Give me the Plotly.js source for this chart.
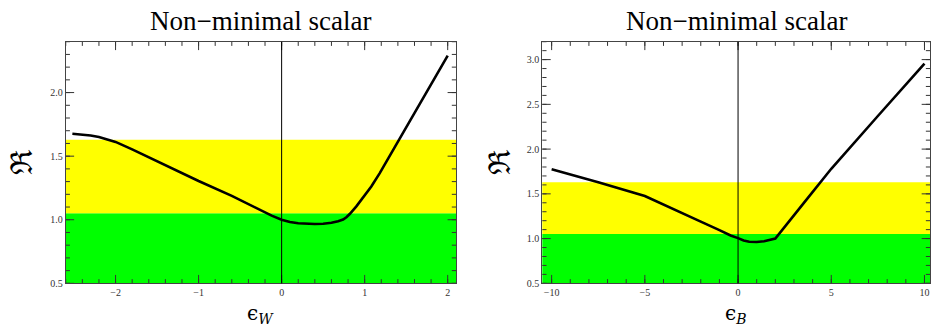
<!DOCTYPE html>
<html>
<head>
<meta charset="utf-8">
<script src="https://cdn.plot.ly/plotly-3.0.1.min.js"></script>
<style>
  html, body { margin: 0; padding: 0; background: #fff; }
  #chart { width: 931px; height: 331px; }
</style>
</head>
<body>
<div id="chart"></div>
<script>
// left panel: R vs eps_W
const epsW = [-2.52, -2.4, -2.3, -2.2, -2.1, -2.0, -1.8, -1.5, -1.0, -0.6, -0.4, -0.25, -0.12, 0.0, 0.1, 0.2, 0.3, 0.4, 0.5, 0.6, 0.68, 0.74, 0.78, 0.82, 0.9, 0.98, 1.08, 1.18, 1.28, 1.405, 1.706, 2.0];
const rW   = [1.676, 1.67, 1.662, 1.65, 1.633, 1.612, 1.553, 1.46, 1.305, 1.188, 1.124, 1.072, 1.032, 1.0, 0.983, 0.973, 0.968, 0.967, 0.969, 0.976, 0.988, 1.002, 1.02, 1.045, 1.105, 1.172, 1.262, 1.365, 1.478, 1.622, 1.962, 2.29];

// right panel: R vs eps_B
const epsB = [-10.0, -7.5, -5.0, -3.0, -2.0, -1.0, -0.4, 0.0, 0.3, 0.6, 1.0, 1.4, 2.0, 3.5, 5.0, 7.5, 10.0];
const rB   = [1.775, 1.63, 1.475, 1.28, 1.19, 1.095, 1.035, 1.005, 0.978, 0.964, 0.962, 0.97, 1.0, 1.39, 1.78, 2.37, 2.955];

// bands (green: 1 sigma, yellow: 2 sigma)
const bandEdges = [0.5, 1.052, 1.63];
const bandColors = ['#00ff00', '#ffff00'];

const titles = ['Non\u2212minimal scalar', 'Non\u2212minimal scalar'];
const xTitles = ['\u03f5<sub><i>W</i></sub>', '\u03f5<sub><i>B</i></sub>'];

const xRanges = [[-2.6, 2.1], [-10.5, 10.3]];
const yRanges = [[0.5, 2.4], [0.5, 3.2]];
const xMajor = [1, 5];
const xMinor = [0.2, 1];
const yMajor = [0.5, 0.5];
const yMinor = [0.1, 0.1];

const serif = 'Liberation Serif, Times New Roman, serif';
const tickCol = '#333';

function steps(range, step) {
  const out = [];
  for (let k = Math.ceil(range[0] / step - 1e-9); k * step <= range[1] + 1e-9; k++) {
    out.push(+(k * step).toFixed(6));
  }
  return out;
}

function axis(extra) {
  return {
    showgrid: false, zeroline: false,
    showline: true, linecolor: '#444', linewidth: 1, mirror: true,
    ticks: '', ticklen: 5,
    tickfont: { family: serif, size: 10, color: '#333' },
    ...extra
  };
}

const curveLine = { color: '#000', width: 2.6 };

const traces = [
  { x: epsW, y: rW, type: 'scatter', mode: 'lines', line: { ...curveLine }, xaxis: 'x', yaxis: 'y', hoverinfo: 'x+y' },
  { x: epsB, y: rB, type: 'scatter', mode: 'lines', line: { ...curveLine }, xaxis: 'x2', yaxis: 'y2', hoverinfo: 'x+y' }
];

// inside tick marks on all four sides, clipped to the frame
function tickMarks(xa, ya, xr, yr, xStep, yStep, len) {
  const xs = steps(xr, xStep), ys = steps(yr, yStep);
  const mk = (sym) => ({ symbol: sym, size: 2 * len, color: tickCol, line: { color: tickCol, width: 1 } });
  return [
    { x: xs.concat(xs), y: xs.map(() => yr[0]).concat(xs.map(() => yr[1])),
      type: 'scatter', mode: 'markers', marker: mk('line-ns'), cliponaxis: true,
      xaxis: xa, yaxis: ya, hoverinfo: 'skip' },
    { x: ys.map(() => xr[0]).concat(ys.map(() => xr[1])), y: ys.concat(ys),
      type: 'scatter', mode: 'markers', marker: mk('line-ew'), cliponaxis: true,
      xaxis: xa, yaxis: ya, hoverinfo: 'skip' }
  ];
}
[['x', 'y'], ['x2', 'y2']].forEach(([xa, ya], i) => {
  traces.push(...tickMarks(xa, ya, xRanges[i], yRanges[i], xMajor[i], yMajor[i], 6));
  traces.push(...tickMarks(xa, ya, xRanges[i], yRanges[i], xMinor[i], yMinor[i], 3));
});

const shapes = [];
for (const [xr, yr] of [['x', 'y'], ['x2', 'y2']]) {
  for (let i = 0; i < bandColors.length; i++) {
    shapes.push({
      type: 'rect', xref: xr, yref: yr,
      x0: -100, x1: 100, y0: bandEdges[i], y1: bandEdges[i + 1],
      fillcolor: bandColors[i], line: { width: 0 }, layer: 'below'
    });
  }
  shapes.push({
    type: 'line', xref: xr, yref: yr + ' domain',
    x0: 0, x1: 0, y0: 0, y1: 1,
    line: { color: '#000', width: 1 }, layer: 'above'
  });
}

const dom1 = [0.0706, 0.4898];
const dom2 = [0.5825, 0.999];
const ydom = [0.144, 0.874];

const annotations = [];
[dom1, dom2].forEach((d, i) => {
  const cx = (d[0] + d[1]) / 2;
  annotations.push({
    text: titles[i], xref: 'paper', yref: 'paper', x: cx, y: (331 - 21) / 331,
    xanchor: 'center', yanchor: 'middle', showarrow: false,
    font: { family: serif, size: 27, color: '#000' }
  });
  annotations.push({
    text: xTitles[i], xref: 'paper', yref: 'paper', x: cx, y: (331 - 314) / 331,
    xanchor: 'center', yanchor: 'middle', showarrow: false,
    font: { family: 'DejaVu Serif, serif', size: 20, color: '#000' }
  });
});
const rPos = [[21.5, 162.5], [499, 162]];
for (const [px, py] of rPos) {
  annotations.push({
    text: '\u211c', xref: 'paper', yref: 'paper', x: px / 931, y: (331 - py) / 331,
    xanchor: 'center', yanchor: 'middle', showarrow: false, textangle: -90,
    font: { family: 'DejaVu Serif, serif', size: 30, color: '#000' }
  });
}

const layout = {
  width: 931,
  height: 331,
  margin: { l: 0, r: 0, t: 0, b: 0 },
  paper_bgcolor: '#fff',
  plot_bgcolor: '#fff',
  showlegend: false,
  xaxis: axis({ domain: dom1, anchor: 'y', range: xRanges[0], tick0: 0, dtick: xMajor[0] }),
  yaxis: axis({ domain: ydom, anchor: 'x', range: yRanges[0], tick0: 0.5, dtick: yMajor[0], tickformat: '.1f' }),
  xaxis2: axis({ domain: dom2, anchor: 'y2', range: xRanges[1], tick0: 0, dtick: xMajor[1] }),
  yaxis2: axis({ domain: ydom, anchor: 'x2', range: yRanges[1], tick0: 0.5, dtick: yMajor[1], tickformat: '.1f' }),
  shapes: shapes,
  annotations: annotations
};

Plotly.newPlot('chart', traces, layout, { displayModeBar: false, staticPlot: true });
</script>
</body>
</html>
